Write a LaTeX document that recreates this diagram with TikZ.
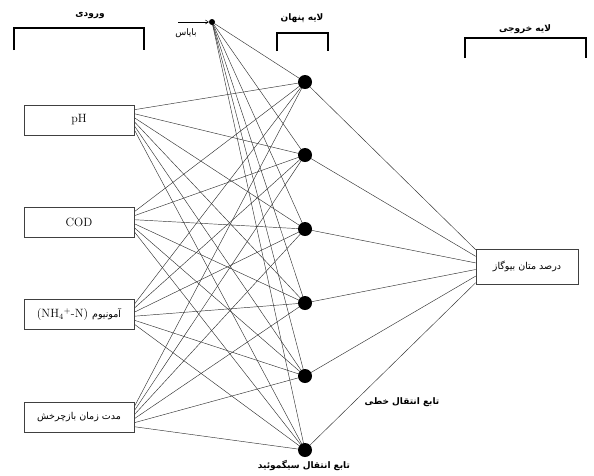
\documentclass[tikz,border=0pt]{standalone}
\usepackage{fontspec}
\usetikzlibrary{calc,arrows.meta}
\newfontfamily\arabicfont[Script=Arabic]{DejaVu Sans}
\TeXXeTstate=1
\pgfdeclarelayer{background}
\pgfsetlayers{background,main}
\begin{document}
\begin{tikzpicture}[x=1pt,y=-1pt,
  inbox/.style={draw=black!75,line width=0.6pt,fill=white,minimum width=110pt,minimum height=30pt,inner sep=0pt,font=\fontsize{12}{14}\selectfont},
  outbox/.style={draw=black!75,line width=0.6pt,fill=white,minimum width=102pt,minimum height=35pt,inner sep=0pt},
  hid/.style={circle,fill=black,minimum size=14pt,inner sep=0pt},
  biasnode/.style={circle,fill=black,minimum size=6pt,inner sep=0pt},
  edge/.style={draw=black!80,line width=0.45pt},
  bracket/.style={line width=2.6pt},
  ar/.style={font=\arabicfont\fontsize{9}{11}\selectfont,inner sep=0pt},
  arb/.style={font=\arabicfont\bfseries\fontsize{9}{11}\selectfont,inner sep=0pt}]
\useasboundingbox (0,0) rectangle (594,475);

% input boxes
\node[inbox] (in1) at (79,120) {pH};
\node[inbox] (in2) at (79,222) {COD};
\node[inbox] (in3) at (79,314.5) {(NH\textsubscript{4}\textsuperscript{+}-N) {\arabicfont\fontsize{9.5}{11}\selectfont\beginR آمونیوم\endR}};
\node[inbox] (in4) at (79,417) {\arabicfont\fontsize{9.5}{11}\selectfont\beginR مدت زمان بازچرخش\endR};
\node[outbox] (out) at (527,266.5) {\arabicfont\fontsize{9.5}{11}\selectfont\beginR درصد متان بیوگاز\endR};

% hidden nodes
\foreach \j/\yy in {1/82,2/155,3/229,4/303,5/376,6/450}
  \node[hid] (h\j) at (305,\yy) {};

\node[biasnode] (bias) at (212,22) {};
\coordinate (barr) at (178,22);

% edges
\begin{pgfonlayer}{background}
\foreach \i in {1,...,4}
  \foreach \j in {1,...,6}
    \draw[edge] ($(in\i.north east)+(0,{1+\j*4})$) -- (h\j.center);
\foreach \j in {1,...,6}
  \draw[edge] (bias.center) -- (h\j.center);
\foreach \j in {1,...,6}
  \draw[edge] (h\j.center) -- ($(out.north west)+(0,{1+(\j-1)*6.6})$);
\end{pgfonlayer}

% bias arrow and label
\draw[line width=0.5pt,-{Straight Barb[length=3pt,width=4pt]}] (barr) -- (bias.west);
\node[ar] (biaslbl) at (186,33) {\beginR بایاس\endR};

% brackets
\draw[bracket] (14,50) -- (14,28) -- (144,28) -- (144,50);
\draw[bracket] (277,51) -- (277,33) -- (328,33) -- (328,51);
\draw[bracket] (465,58) -- (465,38) -- (586,38) -- (586,58);

% layer labels
\node[arb] (lin) at (90,16) {\beginR ورودی\endR};
\node[arb] (lhid) at (302,18) {\beginR لایه پنهان\endR};
\node[arb] (lout) at (525,29) {\beginR لایه خروجی\endR};

% transfer function labels
\node[arb] (tlin) at (402,402) {\beginR تابع انتقال خطی\endR};
\node[arb] (tsig) at (304,465) {\beginR تابع انتقال سیگموئید\endR};
\end{tikzpicture}
\end{document}
